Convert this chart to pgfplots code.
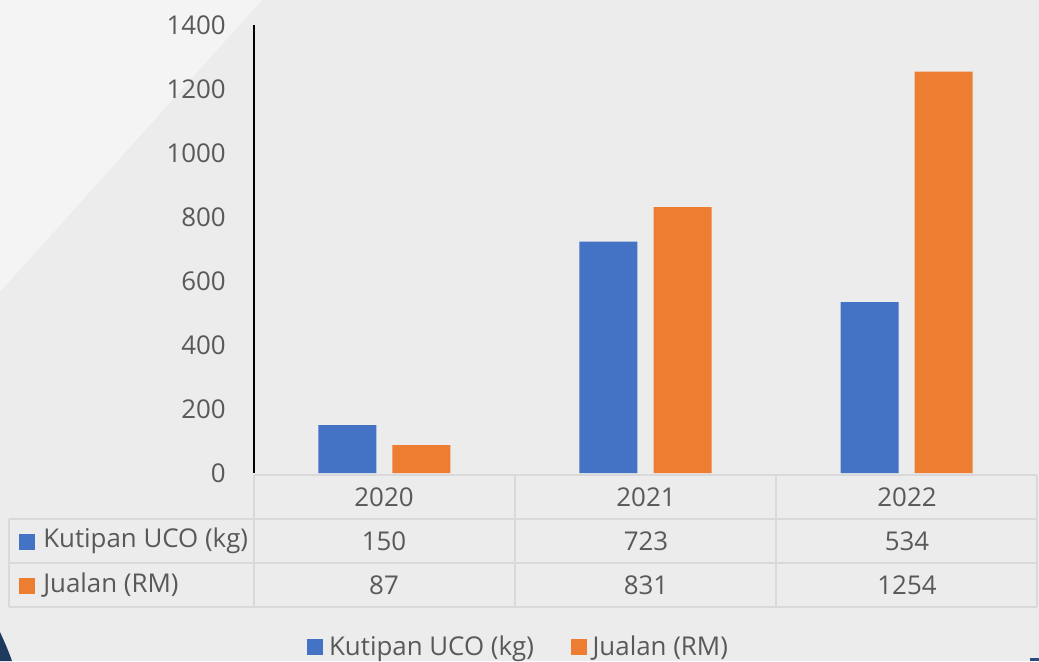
\documentclass[border=0pt]{standalone}
\usepackage{pgfplots}
\pgfplotsset{compat=1.18}
\usepackage{fontspec}
\setmainfont{Open Sans}

\definecolor{uco}{HTML}{4472C4}
\definecolor{jualan}{HTML}{ED7D31}
\definecolor{txt}{HTML}{595959}
\definecolor{grid}{HTML}{D9D9D9}
\definecolor{bg}{HTML}{ECECEC}
\definecolor{bglight}{HTML}{F4F4F4}
\definecolor{navy}{HTML}{1F3A5F}

\newcommand{\chartfont}{\fontsize{19.4}{21}\selectfont}

\begin{document}
\begin{tikzpicture}
% background, in pixel units (1px = 0.75pt), origin at the axis' bottom left
\begin{scope}[x=0.75pt,y=-0.75pt,shift={(-254,-473)}]
  \fill[bg] (0,0) rectangle (1039,661);
  \fill[bglight] (0,0) -- (262,0) -- (0,292) -- cycle;
  \fill[navy] (0,632) .. controls (6,645) and (10,655) .. (12,661) -- (0,661) -- cycle;
  \fill[navy!70!uco] (1030,658) rectangle (1039,661);
\end{scope}

\begin{axis}[
    at={(0,0)}, anchor=south west,
    scale only axis,
    width=587.25pt, height=336pt,
    ybar=12pt,
    bar width=43.5pt,
    xmin=-0.5, xmax=2.5,
    ymin=0, ymax=1400,
    ytick={0,200,...,1400},
    xtick=\empty,
    axis x line=none,
    axis y line=left,
    axis line style={-, black, line width=1.1pt},
    major tick length=0pt,
    tick label style={font=\chartfont, text=txt},
    yticklabel style={anchor=east, inner sep=0pt, xshift=-21pt},
    /pgf/number format/assume math mode=true,
    /pgf/number format/1000 sep={},
    clip=false,
    legend columns=2,
    legend style={at={(0.3404,-0.388)}, anchor=center, draw=none, fill=none,
        font=\chartfont, text=txt, inner sep=0pt,
        /tikz/every even column/.append style={column sep=23pt},
        nodes={inner xsep=4.5pt, inner ysep=0pt}},
    legend image code/.code={\fill[#1] (0pt,-6pt) rectangle (12pt,6pt);},
]
\addplot[fill=uco, draw=none] coordinates {(0,150) (1,723) (2,534)};
\addplot[fill=jualan, draw=none] coordinates {(0,87) (1,831) (2,1254)};
\legend{Kutipan UCO (kg), Jualan (RM)}
\end{axis}

% data table below the axis
\begin{scope}[x=0.75pt,y=-0.75pt,shift={(-254,-473)},
    every node/.style={font=\chartfont, text=txt, inner sep=0pt}]
  \draw[grid, line width=1.5pt]
    (254,475) -- (1037,475)
    (9,519) -- (1037,519)
    (9,563) -- (1037,563)
    (9,607) -- (1037,607)
    (9,519) -- (9,607)
    (254,475) -- (254,607)
    (515,475) -- (515,607)
    (776,475) -- (776,607)
    (1037,475) -- (1037,607);
  \node at (384,497) {2020};
  \node at (646,497) {2021};
  \node at (907,497) {2022};
  \fill[uco] (19,534) rectangle (35,550);
  \node[anchor=west] at (43,541) {Kutipan UCO (kg)};
  \fill[jualan] (19,578) rectangle (35,594);
  \node[anchor=west] at (43,585) {Jualan (RM)};
  \node at (384,541) {150};
  \node at (646,541) {723};
  \node at (907,541) {534};
  \node at (384,585) {87};
  \node at (646,585) {831};
  \node at (907,585) {1254};
\end{scope}
\end{tikzpicture}
\end{document}
